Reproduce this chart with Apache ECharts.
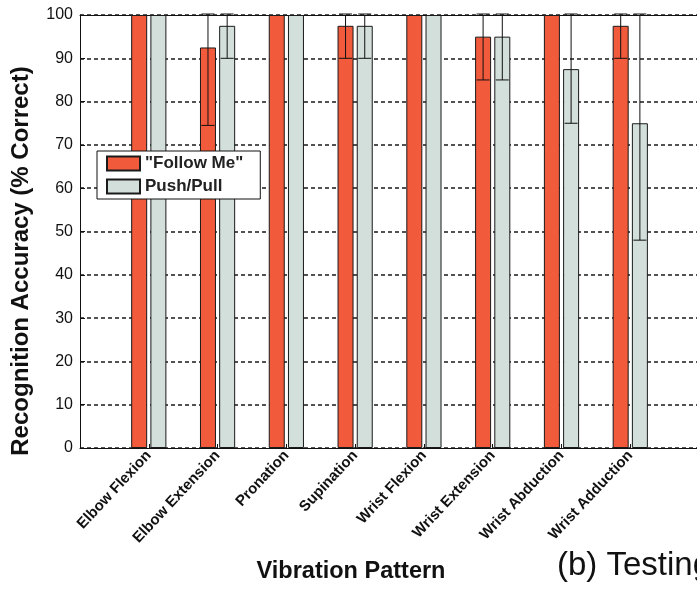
<!DOCTYPE html>
<html>
<head>
<meta charset="utf-8">
<script src="https://cdn.jsdelivr.net/npm/echarts@6/dist/echarts.min.js"></script>
<style>
html,body{margin:0;padding:0;background:#fff;}
#chart{width:697px;height:590px;}
</style>
</head>
<body>
<div id="chart"></div>
<script>
const categories = ['Elbow Flexion','Elbow Extension','Pronation','Supination','Wrist Flexion','Wrist Extension','Wrist Abduction','Wrist Adduction'];
const followMe = [100, 92.5, 100, 97.5, 100, 95, 100, 97.5];
const followMeLow = [null, 74.5, null, 90, null, 85, null, 90];
const followMeHigh = [null, 100, null, 100, null, 100, null, 100];
const pushPull = [100, 97.5, 100, 97.5, 100, 95, 87.5, 75];
const pushPullLow = [null, 90, null, 90, null, 85, 75, 48];
const pushPullHigh = [null, 100, null, 100, null, 100, 100, 100];
const yTicks = [0, 10, 20, 30, 40, 50, 60, 70, 80, 90, 100];
const xMax = 8.97;

const BAR_W = 16, GAP = 3.2, OFF = (BAR_W + GAP) / 2, CAP = 13;
const RED = '#F15A3B', GRAY = '#D3DFDA';

function errData(low, high, side) {
  const out = [];
  categories.forEach((c, i) => {
    if (low[i] != null) out.push([i + 1, low[i], high[i], side]);
  });
  return out;
}

function renderErr(params, api) {
  const x = api.value(0), lo = api.value(1), hi = api.value(2), side = api.value(3);
  const a = api.coord([x, lo]), b = api.coord([x, hi]);
  const cx = a[0] + side * OFF;
  const st = {stroke: '#111', lineWidth: 1, fill: null};
  return {
    type: 'group',
    children: [
      {type: 'line', shape: {x1: cx, y1: a[1], x2: cx, y2: b[1]}, style: st},
      {type: 'line', shape: {x1: cx - CAP / 2, y1: a[1], x2: cx + CAP / 2, y2: a[1]}, style: st},
      {type: 'line', shape: {x1: cx - CAP / 2, y1: b[1] - 1, x2: cx + CAP / 2, y2: b[1] - 1}, style: st}
    ]
  };
}

const chart = echarts.init(document.getElementById('chart'), null, {renderer: 'canvas'});
chart.setOption({
  animation: false,
  backgroundColor: '#fff',
  grid: {left: 80, top: 15, right: 0, bottom: 142, show: false},
  legend: {
    orient: 'vertical', left: 97, top: 151,
    data: ['"Follow Me"', 'Push/Pull'],
    itemWidth: 33, itemHeight: 14, itemGap: 6,
    padding: [4, 17, 4, 9],
    backgroundColor: '#fff', borderColor: '#111', borderWidth: 1, borderRadius: 0,
    icon: 'rect',
    textStyle: {fontFamily: 'Liberation Sans, Arial', fontSize: 17, fontWeight: 'bold', color: '#222'}
  },
  xAxis: [{
    type: 'value', min: 0, max: xMax, interval: 1,
    axisLine: {show: true, lineStyle: {color: '#111', width: 1}},
    axisTick: {show: true, inside: true, length: 4, lineStyle: {color: '#111'}},
    splitLine: {show: false},
    axisLabel: {
      rotate: 47, margin: 5, fontFamily: 'Liberation Sans, Arial', fontSize: 15, fontWeight: 'bold', color: '#111',
      showMaxLabel: false,
      formatter: v => (v >= 1 && v <= categories.length) ? categories[v - 1] : ''
    }
  }, {
    type: 'value', position: 'top', min: 0, max: xMax, interval: 1,
    axisLine: {show: true, lineStyle: {color: '#111', width: 1}},
    axisTick: {show: false}, axisLabel: {show: false}, splitLine: {show: false}
  }],
  yAxis: {
    type: 'value', min: yTicks[0], max: yTicks[yTicks.length - 1], interval: 10,
    axisLine: {show: true, lineStyle: {color: '#111', width: 1}},
    axisTick: {show: true, inside: true, length: 5, lineStyle: {color: '#111'}},
    splitLine: {show: true, lineStyle: {color: '#1a1a1a', width: 1.5, type: [4, 3]}},
    axisLabel: {margin: 7, fontFamily: 'Liberation Sans, Arial', fontSize: 16, color: '#111'}
  },
  series: [
    {
      name: '"Follow Me"', type: 'bar', barWidth: BAR_W, barGap: '20%',
      itemStyle: {color: RED, borderColor: '#1a1a1a', borderWidth: 1},
      data: categories.map((c, i) => [i + 1, followMe[i]])
    },
    {
      name: 'Push/Pull', type: 'bar', barWidth: BAR_W, barGap: '20%',
      itemStyle: {color: GRAY, borderColor: '#1a1a1a', borderWidth: 1},
      data: categories.map((c, i) => [i + 1, pushPull[i]])
    },
    {
      type: 'custom', z: 5, renderItem: renderErr, clip: false,
      encode: {x: 0, y: [1, 2]},
      data: errData(followMeLow, followMeHigh, -1).concat(errData(pushPullLow, pushPullHigh, 1))
    }
  ],
  graphic: [
    {type: 'text', x: 21, y: 261, rotation: Math.PI / 2,
     style: {text: 'Recognition Accuracy (% Correct)', font: 'bold 24px "Liberation Sans", Arial', fill: '#111', textAlign: 'center', textVerticalAlign: 'middle'}},
    {type: 'text', x: 351, y: 572,
     style: {text: 'Vibration Pattern', font: 'bold 23.5px "Liberation Sans", Arial', fill: '#111', textAlign: 'center', textVerticalAlign: 'middle'}},
    {type: 'text', x: 557, y: 566,
     style: {text: '(b) Testing', font: '33px "Liberation Sans", Arial', fill: '#111', textAlign: 'left', textVerticalAlign: 'middle'}}
  ]
});
</script>
</body>
</html>
